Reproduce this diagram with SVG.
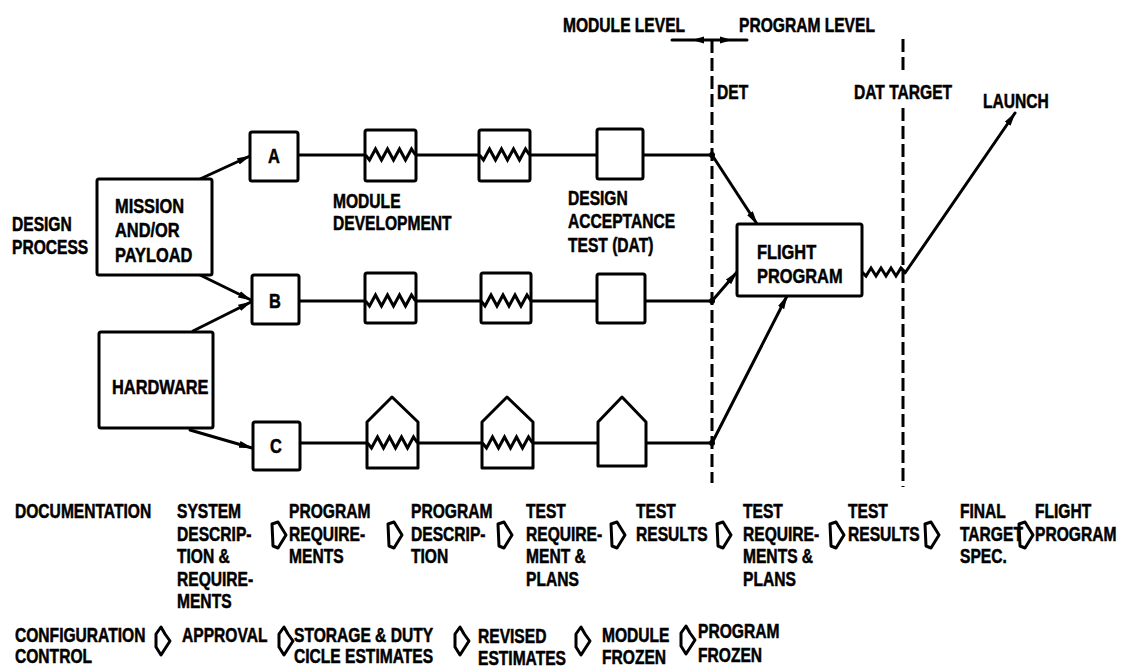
<svg xmlns="http://www.w3.org/2000/svg" xmlns:xlink="http://www.w3.org/1999/xlink" width="1135" height="670" viewBox="0 0 1135 670">
<defs>
<style>
.t{font-family:"Liberation Sans",Arial,sans-serif;font-weight:bold;font-size:19.5px;fill:#000;stroke:#000;stroke-width:0.5}
.n{font-size:20.5px}
.box{fill:#fff;stroke:#000;stroke-width:3;stroke-linejoin:round}
.ln{fill:none;stroke:#000;stroke-width:3;stroke-linecap:round}
.dash{fill:none;stroke:#000;stroke-width:3;stroke-dasharray:13 5}
.zz{fill:none;stroke:#000;stroke-width:3;stroke-linejoin:miter}
.ar{fill:none;stroke:#000;stroke-width:3;stroke-linejoin:round}
</style>
<marker id="ah" viewBox="0 0 14 8" refX="13" refY="4" markerWidth="14" markerHeight="8" markerUnits="userSpaceOnUse" orient="auto">
<path d="M0,0.5 L14,4 L0,7.5 Z" fill="#000"/>
</marker>
<path id="zz" class="zz" d="M0,0 l4,5 l6,-11 l6,11 l6,-11 l6,11 l6,-11 l6,11 l6,-11 l4,6"/>
<path id="da" class="ar" d="M1,3 L7,1 L15,14 L7,27 L2,25 Z"/>
<path id="ca" class="ar" d="M6,0 L1,7 L1,20 L6,28 L15,14 L10,7 Z"/>
</defs>
<rect width="1135" height="670" fill="#fff"/>

<g id="labels-top">
<text class="t" transform="scale(0.8,1)" x="703.75" y="32">MODULE LEVEL</text>
<text class="t" transform="scale(0.8,1)" x="923.75" y="32">PROGRAM LEVEL</text>
<text class="t" transform="scale(0.8,1)" x="896.25" y="99">DET</text>
<text class="t" transform="scale(0.8,1)" x="1067.5" y="99">DAT TARGET</text>
<text class="t" transform="scale(0.8,1)" x="1228.75" y="108">LAUNCH</text>
<text class="t" transform="scale(0.8,1)" x="15" y="231">DESIGN</text>
<text class="t" transform="scale(0.8,1)" x="15" y="254">PROCESS</text>
<text class="t" transform="scale(0.8,1)" x="416.25" y="208">MODULE</text>
<text class="t" transform="scale(0.8,1)" x="416.25" y="230">DEVELOPMENT</text>
<text class="t" transform="scale(0.8,1)" x="710" y="205">DESIGN</text>
<text class="t" transform="scale(0.8,1)" x="710" y="228">ACCEPTANCE</text>
<text class="t" transform="scale(0.8,1)" x="710" y="252">TEST (DAT)</text>
</g>

<g id="connectors">
<line class="ln" x1="672" y1="40" x2="747" y2="40"/>
<path d="M692,40 L704,36.5 L704,43.5 Z M732,40 L720,36.5 L720,43.5 Z" fill="#000"/>
<line class="dash" x1="712" y1="40" x2="712" y2="483"/>
<line class="dash" x1="903" y1="39" x2="903" y2="70"/>
<line class="dash" x1="903" y1="108" x2="903" y2="487"/>
<line class="ln" x1="200" y1="179" x2="250" y2="156" marker-end="url(#ah)"/>
<line class="ln" x1="200" y1="275" x2="251" y2="300" marker-end="url(#ah)"/>
<line class="ln" x1="193" y1="331" x2="251" y2="302" marker-end="url(#ah)"/>
<line class="ln" x1="190" y1="430" x2="252" y2="448" marker-end="url(#ah)"/>
<path class="ln" d="M298,155 H365 M416,155 H479 M530,155 H597 M643,155 H712"/>
<path class="ln" d="M299,301 H365 M416,301 H481 M531,301 H597 M645,301 H712"/>
<path class="ln" d="M300,443 H367 M418,443 H482 M533,443 H598 M646,443 H712"/>
<circle cx="712" cy="155" r="3"/>
<circle cx="712" cy="301" r="3"/>
<circle cx="712" cy="443" r="3"/>
<line class="ln" x1="712" y1="155" x2="757" y2="224" marker-end="url(#ah)"/>
<line class="ln" x1="712" y1="301" x2="737" y2="272" marker-end="url(#ah)"/>
<line class="ln" x1="712" y1="443" x2="787" y2="296" marker-end="url(#ah)"/>
<path class="zz" d="M862,272 l4,4 l5,-8 l5,8 l5,-8 l5,8 l5,-8 l5,8 l5,-8 l4,4"/>
<line class="ln" x1="905" y1="273" x2="1015" y2="113" marker-end="url(#ah)"/>
</g>

<g id="mission">
<rect class="box" x="97" y="179" width="115" height="96" rx="2"/>
<text class="t n" transform="scale(0.8,1)" x="143.75" y="213">MISSION</text>
<text class="t n" transform="scale(0.8,1)" x="143.75" y="237">AND/OR</text>
<text class="t n" transform="scale(0.8,1)" x="143.75" y="262">PAYLOAD</text>
</g>
<g id="hardware">
<rect class="box" x="99" y="332" width="114" height="96" rx="2"/>
<text class="t n" transform="scale(0.8,1)" x="140" y="394">HARDWARE</text>
</g>
<g id="node-a">
<rect class="box" x="250" y="132" width="48" height="49" rx="2"/>
<text class="t n" transform="scale(0.8,1)" x="342.5" y="163" text-anchor="middle">A</text>
</g>
<g id="node-b">
<rect class="box" x="252" y="275" width="47" height="49" rx="2"/>
<text class="t n" transform="scale(0.8,1)" x="343.75" y="308" text-anchor="middle">B</text>
</g>
<g id="node-c">
<rect class="box" x="253" y="422" width="47" height="48" rx="2"/>
<text class="t n" transform="scale(0.8,1)" x="345" y="453" text-anchor="middle">C</text>
</g>

<g id="a-dev1"><rect class="box" x="365" y="130" width="51" height="51" rx="2"/><use href="#zz" x="365.5" y="155"/></g>
<g id="a-dev2"><rect class="box" x="479" y="130" width="51" height="51" rx="2"/><use href="#zz" x="479.5" y="155"/></g>
<g id="a-dat"><rect class="box" x="597" y="129" width="46" height="50" rx="2"/></g>
<g id="b-dev1"><rect class="box" x="365" y="273" width="51" height="50" rx="2"/><use href="#zz" x="365.5" y="301"/></g>
<g id="b-dev2"><rect class="box" x="481" y="273" width="50" height="50" rx="2"/><use href="#zz" x="481" y="301"/></g>
<g id="b-dat"><rect class="box" x="597" y="274" width="48" height="49" rx="2"/></g>
<g id="c-dev1"><path class="box" d="M367,422 L392,397 L418,422 L418,468 L367,468 Z"/><use href="#zz" x="367.5" y="443"/></g>
<g id="c-dev2"><path class="box" d="M482,422 L507,397 L533,422 L533,468 L482,468 Z"/><use href="#zz" x="482.5" y="443"/></g>
<g id="c-dat"><path class="box" d="M598,422 L622,397 L646,422 L646,466 L598,466 Z"/></g>

<g id="flight-program">
<rect class="box" x="737" y="224" width="125" height="72" rx="2"/>
<text class="t n" transform="scale(0.8,1)" x="946.25" y="259">FLIGHT</text>
<text class="t n" transform="scale(0.8,1)" x="946.25" y="283">PROGRAM</text>
</g>

<g id="documentation">
<text class="t" transform="scale(0.8,1)" x="18.75" y="518">DOCUMENTATION</text>
<text class="t" transform="scale(0.8,1)" x="221.25" y="518">SYSTEM</text>
<text class="t" transform="scale(0.8,1)" x="221.25" y="541">DESCRIP-</text>
<text class="t" transform="scale(0.8,1)" x="221.25" y="563">TION &amp;</text>
<text class="t" transform="scale(0.8,1)" x="221.25" y="586">REQUIRE-</text>
<text class="t" transform="scale(0.8,1)" x="221.25" y="608">MENTS</text>
<use href="#da" x="271" y="521"/>
<text class="t" transform="scale(0.8,1)" x="361.25" y="518">PROGRAM</text>
<text class="t" transform="scale(0.8,1)" x="361.25" y="541">REQUIRE-</text>
<text class="t" transform="scale(0.8,1)" x="361.25" y="563">MENTS</text>
<use href="#da" x="387" y="521"/>
<text class="t" transform="scale(0.8,1)" x="513.75" y="518">PROGRAM</text>
<text class="t" transform="scale(0.8,1)" x="513.75" y="541">DESCRIP-</text>
<text class="t" transform="scale(0.8,1)" x="513.75" y="563">TION</text>
<use href="#da" x="497" y="521"/>
<text class="t" transform="scale(0.8,1)" x="657.5" y="518">TEST</text>
<text class="t" transform="scale(0.8,1)" x="657.5" y="541">REQUIRE-</text>
<text class="t" transform="scale(0.8,1)" x="657.5" y="563">MENT &amp;</text>
<text class="t" transform="scale(0.8,1)" x="657.5" y="586">PLANS</text>
<use href="#da" x="610" y="521"/>
<text class="t" transform="scale(0.8,1)" x="795" y="518">TEST</text>
<text class="t" transform="scale(0.8,1)" x="795" y="541">RESULTS</text>
<use href="#da" x="716" y="521"/>
<text class="t" transform="scale(0.8,1)" x="928.75" y="518">TEST</text>
<text class="t" transform="scale(0.8,1)" x="928.75" y="541">REQUIRE-</text>
<text class="t" transform="scale(0.8,1)" x="928.75" y="563">MENTS &amp;</text>
<text class="t" transform="scale(0.8,1)" x="928.75" y="586">PLANS</text>
<use href="#da" x="829" y="521"/>
<text class="t" transform="scale(0.8,1)" x="1060" y="518">TEST</text>
<text class="t" transform="scale(0.8,1)" x="1060" y="541">RESULTS</text>
<use href="#da" x="924" y="521"/>
<text class="t" transform="scale(0.8,1)" x="1200" y="518">FINAL</text>
<text class="t" transform="scale(0.8,1)" x="1200" y="541">TARGET</text>
<text class="t" transform="scale(0.8,1)" x="1200" y="563">SPEC.</text>
<use href="#da" x="1018" y="521"/>
<text class="t" transform="scale(0.8,1)" x="1293.75" y="518">FLIGHT</text>
<text class="t" transform="scale(0.8,1)" x="1293.75" y="541">PROGRAM</text>
</g>

<g id="configuration-control">
<text class="t" transform="scale(0.8,1)" x="18.75" y="642">CONFIGURATION</text>
<text class="t" transform="scale(0.8,1)" x="18.75" y="663">CONTROL</text>
<use href="#ca" x="155" y="627"/>
<text class="t" transform="scale(0.8,1)" x="227.5" y="642">APPROVAL</text>
<use href="#ca" x="278" y="627"/>
<text class="t" transform="scale(0.8,1)" x="367.5" y="642">STORAGE &amp; DUTY</text>
<text class="t" transform="scale(0.8,1)" x="367.5" y="663">CICLE ESTIMATES</text>
<use href="#ca" x="454" y="627"/>
<text class="t" transform="scale(0.8,1)" x="597.5" y="643">REVISED</text>
<text class="t" transform="scale(0.8,1)" x="597.5" y="665">ESTIMATES</text>
<use href="#ca" x="575" y="627"/>
<text class="t" transform="scale(0.8,1)" x="752.5" y="642">MODULE</text>
<text class="t" transform="scale(0.8,1)" x="752.5" y="664">FROZEN</text>
<use href="#ca" x="680" y="626"/>
<text class="t" transform="scale(0.8,1)" x="872.5" y="638">PROGRAM</text>
<text class="t" transform="scale(0.8,1)" x="872.5" y="662">FROZEN</text>
</g>
</svg>
